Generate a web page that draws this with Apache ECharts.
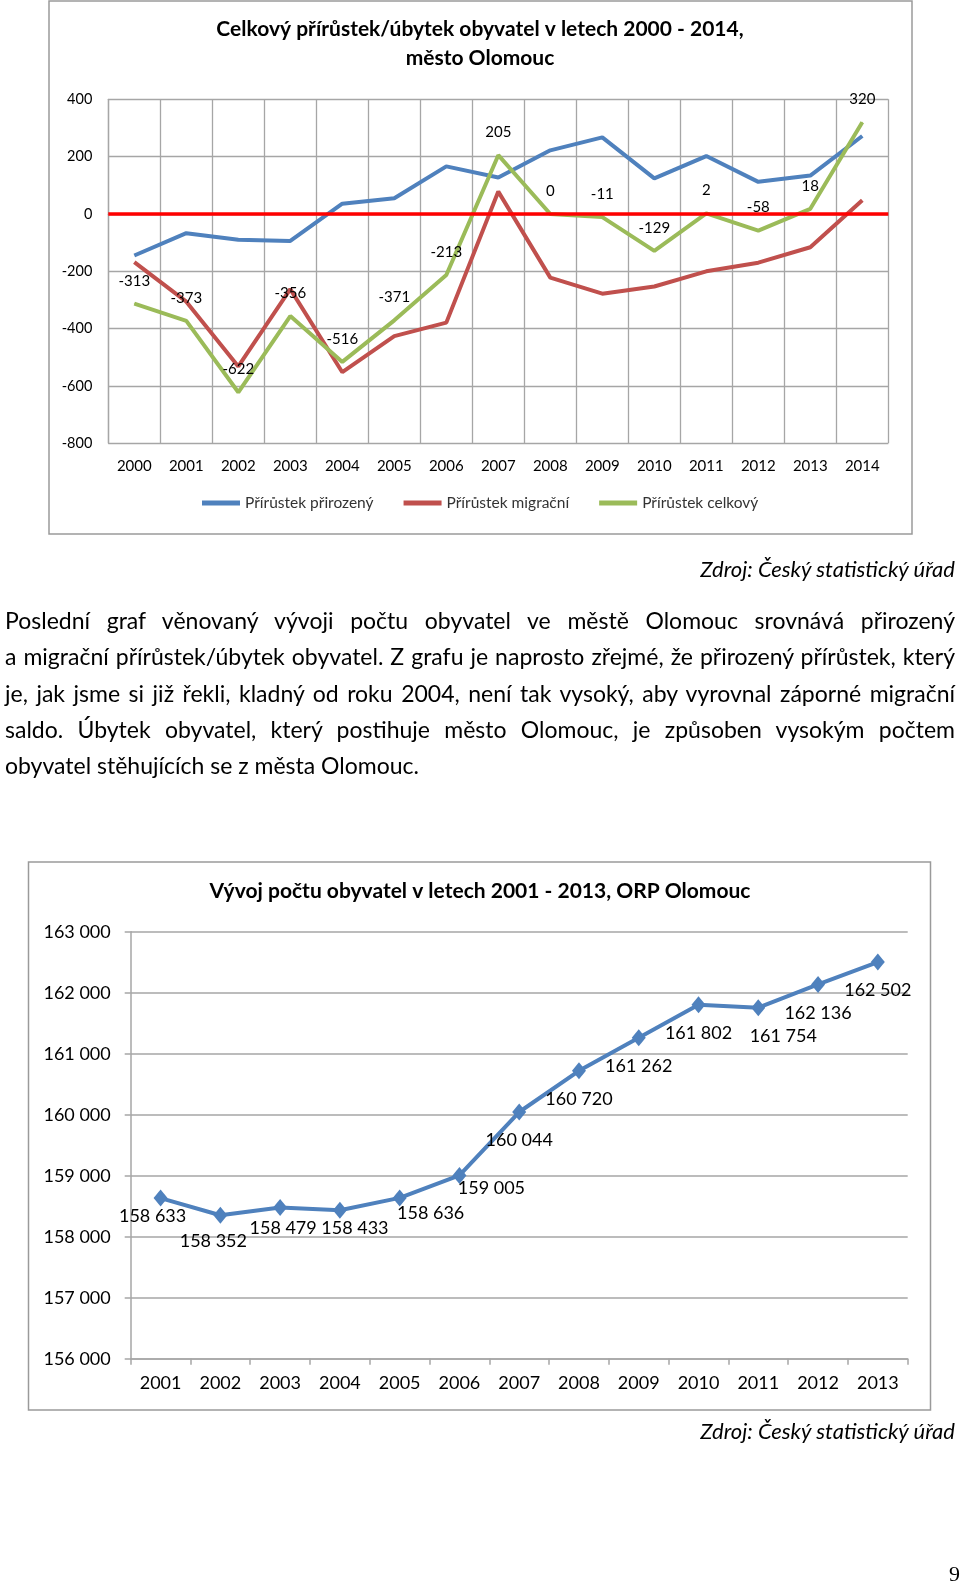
<!DOCTYPE html>
<html><head><meta charset="utf-8">
<script src="https://cdn.jsdelivr.net/npm/echarts@6/dist/echarts.min.js"></script>
<style>
html,body{margin:0;padding:0;background:#fff;}
#chart{position:absolute;left:0;top:0;width:960px;height:1585px;}
.txt{position:absolute;font-family:Lato,sans-serif;color:#000;}
#para{left:5px;top:602px;width:950px;font-size:23px;line-height:36.3px;}
#para div{white-space:nowrap;text-align:justify;text-align-last:justify;}
#para div.last{text-align-last:left;}
.src{right:5px;font-style:italic;font-size:22px;line-height:26px;}
#pg{position:absolute;left:949px;top:1561px;font-family:"Liberation Serif",serif;font-size:22px;line-height:26px;}
</style></head>
<body>
<div id="chart"></div>
<div class="txt src" style="top:556px;">Zdroj: Český statistický úřad</div>
<div id="para" class="txt">
<div>Poslední graf věnovaný vývoji počtu obyvatel ve městě Olomouc srovnává přirozený</div>
<div>a migrační přírůstek/úbytek obyvatel. Z grafu je naprosto zřejmé, že přirozený přírůstek, který</div>
<div>je, jak jsme si již řekli, kladný od roku 2004, není tak vysoký, aby vyrovnal záporné migrační</div>
<div>saldo. Úbytek obyvatel, který postihuje město Olomouc, je způsoben vysokým počtem</div>
<div class="last">obyvatel stěhujících se z města Olomouc.</div>
</div>
<div class="txt src" style="top:1418px;">Zdroj: Český statistický úřad</div>
<div id="pg">9</div>
<script>
// ---- Chart 1 data ----
const years1 = ['2000','2001','2002','2003','2004','2005','2006','2007','2008','2009','2010','2011','2012','2013','2014'];
const natural = [-145, -67, -90, -94, 36, 55, 166, 127, 222, 267, 124, 202, 112, 134, 272];
const migration = [-168, -306, -532, -262, -552, -426, -379, 78, -222, -278, -253, -200, -170, -116, 48];
const total = [-313, -373, -622, -356, -516, -371, -213, 205, 0, -11, -129, 2, -58, 18, 320];
const seriesNames1 = ['Přírůstek přirozený', 'Přírůstek migrační', 'Přírůstek celkový'];
const yMin1 = -800, yMax1 = 400, yStep1 = 200;

// ---- Chart 2 data ----
const years2 = ['2001','2002','2003','2004','2005','2006','2007','2008','2009','2010','2011','2012','2013'];
const population = [158633, 158352, 158479, 158433, 158636, 159005, 160044, 160720, 161262, 161802, 161754, 162136, 162502];
const yMin2 = 156000, yMax2 = 163000, yStep2 = 1000;

const title1 = 'Celkový přírůstek/úbytek obyvatel v letech 2000 - 2014,\nměsto Olomouc';
const title2 = 'Vývoj počtu obyvatel v letech 2001 - 2013, ORP Olomouc';

// label nudges for chart 2 (layout only)
const labelNudge = [[-8,-10],[-7,-3],[3,-8],[15,-11],[31,-13],[32,-16],[0,0],[0,0],[0,0],[0,0],[25,0],[0,0],[0,0]];

function fmtThousands(v){ return String(v).replace(/\B(?=(\d{3})+(?!\d))/g, ' '); }

const FONT = 'Lato';
const gridColor = '#a6a6a6';
const chart = echarts.init(document.getElementById('chart'), null, {renderer:'canvas'});

const option = {
  animation: false,
  textStyle: {fontFamily: FONT, color: '#000'},
  title: [
    {text: title1, left: 'center', top: 15, padding: 0,
     textStyle: {fontFamily: FONT, fontSize: 21, fontWeight: 'bold', lineHeight: 29, color: '#000'}},
    {text: title2, left: 'center', top: 878, padding: 0,
     textStyle: {fontFamily: FONT, fontSize: 21, fontWeight: 'bold', lineHeight: 26, color: '#000'}}
  ],
  legend: {
    data: seriesNames1, left: 202, top: 495, padding: 0,
    icon: 'rect', itemWidth: 38, itemHeight: 5, itemGap: 30,
    textStyle: {fontFamily: FONT, fontSize: 15.5, color: '#333'}
  },
  graphic: [
    {type: 'rect', shape: {x: 49, y: 1, width: 863, height: 533}, z: -1,
     style: {fill: 'none', stroke: '#9a9a9a', lineWidth: 1.5}},
    {type: 'rect', shape: {x: 28.5, y: 862, width: 902, height: 548}, z: -1,
     style: {fill: 'none', stroke: '#9a9a9a', lineWidth: 1.5}}
  ],
  grid: [
    {left: 108.3, top: 99.3, width: 780, height: 344, containLabel: false},
    {left: 130.7, top: 931.7, width: 777, height: 427, containLabel: false}
  ],
  xAxis: [
    {type: 'category', gridIndex: 0, data: years1, boundaryGap: true,
     axisLine: {show: true, lineStyle: {color: gridColor, width: 1.3}},
     axisTick: {show: false},
     splitLine: {show: true, interval: 0, lineStyle: {color: gridColor, width: 1.3}},
     axisLabel: {fontSize: 15, margin: 15, color: '#000', interval: 0}},
    {type: 'category', gridIndex: 1, data: years2, boundaryGap: true,
     axisLine: {show: true, lineStyle: {color: gridColor, width: 1.5}},
     axisTick: {show: true, length: 6, interval: 0, lineStyle: {color: gridColor, width: 1.5}},
     splitLine: {show: false},
     axisLabel: {fontSize: 18, margin: 15, color: '#000', interval: 0}}
  ],
  yAxis: [
    {type: 'value', gridIndex: 0, min: yMin1, max: yMax1, interval: yStep1,
     axisLine: {show: true, lineStyle: {color: gridColor, width: 1.3}},
     axisTick: {show: false},
     splitLine: {show: true, lineStyle: {color: gridColor, width: 1.3}},
     axisLabel: {fontSize: 14.5, margin: 16, color: '#000'}},
    {type: 'value', gridIndex: 1, min: yMin2, max: yMax2, interval: yStep2,
     axisLine: {show: true, lineStyle: {color: gridColor, width: 1.5}},
     axisTick: {show: true, length: 6, lineStyle: {color: gridColor, width: 1.5}},
     splitLine: {show: true, lineStyle: {color: gridColor, width: 1.5}},
     axisLabel: {fontSize: 18, margin: 20, color: '#000', formatter: fmtThousands}}
  ],
  series: [
    {name: seriesNames1[0], type: 'line', xAxisIndex: 0, yAxisIndex: 0, data: natural,
     color: '#4F81BD', symbol: 'none', lineStyle: {width: 4, color: '#4F81BD'},
     markLine: {silent: true, symbol: 'none', label: {show: false},
       lineStyle: {color: '#FF0000', width: 3.5, type: 'solid'}, data: [{yAxis: 0}]}},
    {name: seriesNames1[1], type: 'line', xAxisIndex: 0, yAxisIndex: 0, data: migration,
     color: '#C0504D', symbol: 'none', lineStyle: {width: 4, color: '#C0504D'}},
    {name: seriesNames1[2], type: 'line', xAxisIndex: 0, yAxisIndex: 0, data: total,
     color: '#9BBB59', symbol: 'circle', symbolSize: 1, showSymbol: true,
     itemStyle: {color: '#9BBB59'}, lineStyle: {width: 4, color: '#9BBB59'},
     label: {show: true, position: 'top', distance: 15, fontSize: 15, color: '#000', fontFamily: FONT}},
    {name: 'Počet obyvatel', type: 'line', xAxisIndex: 1, yAxisIndex: 1,
     data: population.map((v, i) => ({value: v, label: {offset: labelNudge[i]}})),
     color: '#4F81BD', symbol: 'diamond', symbolSize: [14, 17],
     itemStyle: {color: '#4F81BD'}, lineStyle: {width: 4, color: '#4F81BD'},
     label: {show: true, position: 'bottom', distance: 11, fontSize: 18, color: '#000', fontFamily: FONT,
       formatter: p => fmtThousands(p.value)}}
  ]
};
chart.setOption(option);
</script>
</body></html>
